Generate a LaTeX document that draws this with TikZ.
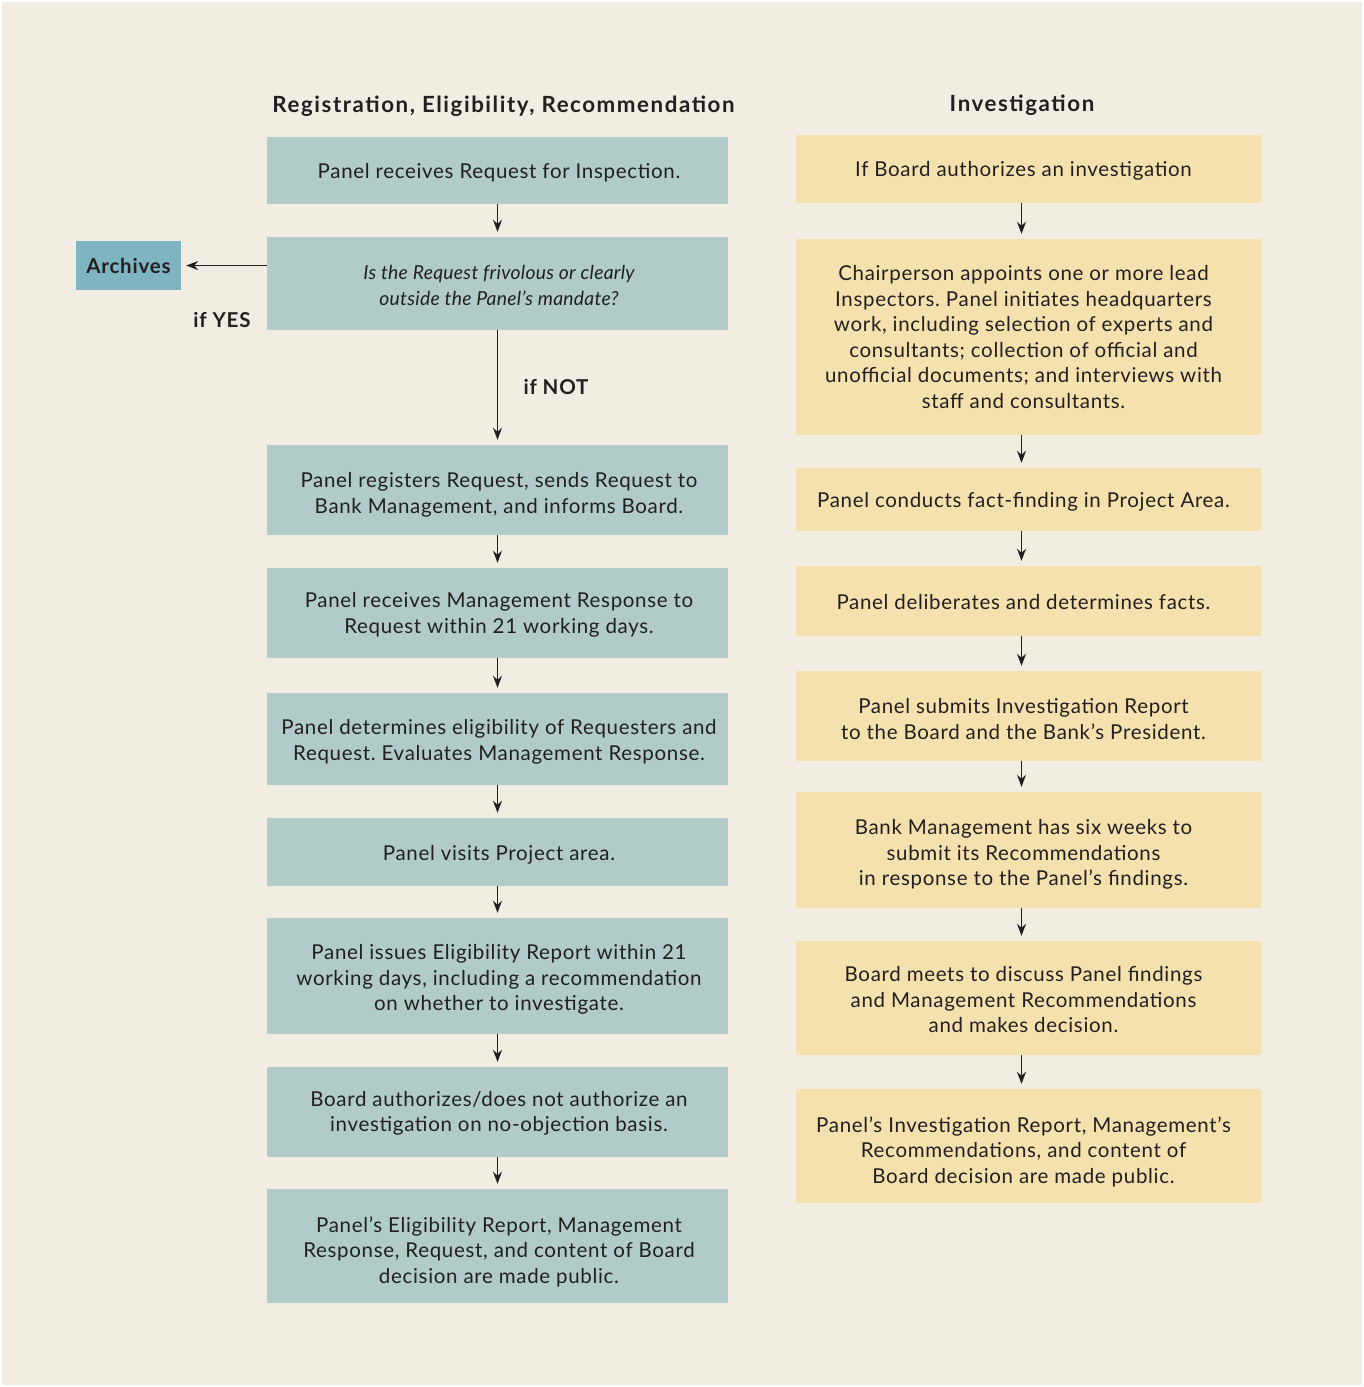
\documentclass[tikz,border=0pt]{standalone}
\usepackage{fontspec}
\setmainfont{Lato}[LetterSpace=3.3]
\newfontfamily\hdrfont{Lato}[LetterSpace=7]
\newfontfamily\lblfont{Lato}[LetterSpace=4]
\newfontfamily\itfont{Lato}[LetterSpace=1.5]
\usetikzlibrary{arrows.meta}
\definecolor{bgc}{HTML}{F1EDE2}
\definecolor{tealc}{HTML}{B1CBC8}
\definecolor{yelc}{HTML}{F5E1AE}
\definecolor{archc}{HTML}{7FB5C2}
\definecolor{txtc}{HTML}{231F20}
\tikzset{
  lbox/.style={fill=tealc, minimum width=461pt, inner sep=0pt},
  rbox/.style={fill=yelc, minimum width=465pt, inner sep=0pt},
  txt/.style={inner sep=0pt, text=txtc, align=center, font=\frenchspacing\fontsize{20.5}{25.5}\selectfont},
  ittxt/.style={txt, font=\itfont\itshape\frenchspacing\fontsize{19.3}{26}\selectfont},
  arr/.style={draw=txtc, line width=1.3pt, -{Stealth[length=12pt,width=9pt]}, shorten >=5pt},
  hdr/.style={font=\hdrfont\bfseries\fontsize{22.3}{26}\selectfont, text=txtc, inner sep=0pt},
  lbl/.style={font=\lblfont\bfseries\fontsize{20.5}{24}\selectfont, text=txtc, inner sep=0pt},
}
\begin{document}
\begin{tikzpicture}[x=1pt,y=-1pt]
\useasboundingbox (0,0) rectangle (1364,1387);
\fill[white] (0,0) rectangle (1364,1387);
\fill[bgc] (2,2) rectangle (1362,1385);

\node[hdr] (h1) at (503.5,106) {Registration, Eligibility, Recommendation};
\node[hdr] (h2) at (1022,105) {Investigation};

% left column boxes
\node[lbox, minimum height=67pt] (b1) at (497.5,170.5) {};
\node[lbox, minimum height=93pt] (b2) at (497.5,283.5) {};
\node[lbox, minimum height=90pt] (b3) at (497.5,490) {};
\node[lbox, minimum height=90pt] (b4) at (497.5,613) {};
\node[lbox, minimum height=92pt] (b5) at (497.5,739) {};
\node[lbox, minimum height=68pt] (b6) at (497.5,852) {};
\node[lbox, minimum height=116pt] (b7) at (497.5,976) {};
\node[lbox, minimum height=90pt] (b8) at (497.5,1112) {};
\node[lbox, minimum height=114pt] (b9) at (497.5,1246) {};

% left column texts
\node[txt] (b1t) at (499,173) {Panel receives Request for Inspection.};
\node[ittxt] (b2t) at (499,285) {Is the Request frivolous or clearly\\ outside the Panel’s mandate?};
\node[txt] (b3t) at (499,495) {Panel registers Request, sends Request to\\ Bank Management, and informs Board.};
\node[txt] (b4t) at (499,615) {Panel receives Management Response to\\ Request within 21 working days.};
\node[txt] (b5t) at (499,742) {Panel determines eligibility of Requesters and\\ Request. Evaluates Management Response.};
\node[txt] (b6t) at (499,855) {Panel visits Project area.};
\node[txt] (b7t) at (499,979.5) {Panel issues Eligibility Report within 21\\ working days, including a recommendation\\ on whether to investigate.};
\node[txt] (b8t) at (499,1113.5) {Board authorizes/does not authorize an\\ investigation on no-objection basis.};
\node[txt] (b9t) at (499,1251.5) {Panel’s Eligibility Report, Management\\ Response, Request, and content of Board\\ decision are made public.};

\node[fill=archc, minimum width=105pt, minimum height=49pt, inner sep=0pt, font=\lblfont\bfseries\fontsize{20.5}{24}\selectfont, text=txtc] (arch) at (128.5,265.5) {Archives};
\node[lbl] (yes) at (222,320) {if YES};
\node[lbl] (not) at (556,387) {if NOT};

\draw[arr] (b2.west |- arch.east) -- (arch.east);
\foreach \a/\b in {b1/b2,b2/b3,b3/b4,b4/b5,b5/b6,b6/b7,b7/b8,b8/b9}
  \draw[arr] (\a.south) -- (\b.north);

% right column boxes
\node[rbox, minimum height=68pt] (r1) at (1028.5,169) {};
\node[rbox, minimum height=196pt] (r2) at (1028.5,337) {};
\node[rbox, minimum height=63pt] (r3) at (1028.5,499.5) {};
\node[rbox, minimum height=70pt] (r4) at (1028.5,601) {};
\node[rbox, minimum height=90pt] (r5) at (1028.5,716) {};
\node[rbox, minimum height=116pt] (r6) at (1028.5,850) {};
\node[rbox, minimum height=114pt] (r7) at (1028.5,998) {};
\node[rbox, minimum height=114pt] (r8) at (1028.5,1146) {};

% right column texts
\node[txt] (r1t) at (1023.5,171) {If Board authorizes an investigation};
\node[txt] (r2t) at (1023.5,337) {Chairperson appoints one or more lead\\ Inspectors. Panel initiates headquarters\\ work, including selection of experts and\\ consultants; collection of official and\\ unofficial documents; and interviews with\\ staff and consultants.};
\node[txt] (r3t) at (1023.5,502) {Panel conducts fact-finding in Project Area.};
\node[txt] (r4t) at (1023.5,602) {Panel deliberates and determines facts.};
\node[txt] (r5t) at (1023.5,719) {Panel submits Investigation Report\\ to the Board and the Bank’s President.};
\node[txt] (r6t) at (1023.5,854.5) {Bank Management has six weeks to\\ submit its Recommendations\\ in response to the Panel’s findings.};
\node[txt] (r7t) at (1023.5,1000) {Board meets to discuss Panel findings\\ and Management Recommendations\\ and makes decision.};
\node[txt] (r8t) at (1023.5,1151.5) {Panel’s Investigation Report, Management’s\\ Recommendations, and content of\\ Board decision are made public.};

\foreach \a/\b in {r1/r2,r2/r3,r3/r4,r4/r5,r5/r6,r6/r7,r7/r8}
  \draw[arr] ([xshift=-7pt]\a.south) -- ([xshift=-7pt]\b.north);
\end{tikzpicture}
\end{document}
